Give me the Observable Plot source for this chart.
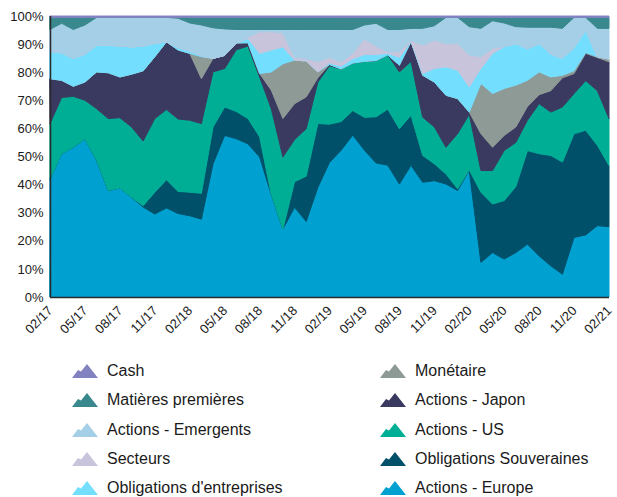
<!DOCTYPE html>
<html>
<head>
<meta charset="utf-8">
<script src="https://cdn.jsdelivr.net/npm/d3@7"></script>
<script src="https://cdn.jsdelivr.net/npm/@observablehq/plot@0.6"></script>
<style>
  body { margin: 0; background: #fff; font-family: "Liberation Sans", Arial, sans-serif; }
  #wrap { position: relative; width: 617px; height: 497px; overflow: hidden; }
  #legend { position: absolute; left: 0; top: 350px; width: 617px; height: 147px; }
  .sw { position: absolute; width: 26px; height: 14px; }
  .lbl { position: absolute; font-size: 16px; line-height: 18px; color: #1a1a1a; white-space: nowrap; }
</style>
</head>
<body>
<div id="wrap"><div id="chart"></div><div id="legend"></div></div>
<script>
const months = ["02/17","03/17","04/17","05/17","06/17","07/17","08/17","09/17","10/17","11/17","12/17","01/18",
"02/18","03/18","04/18","05/18","06/18","07/18","08/18","09/18","10/18","11/18","12/18","01/19",
"02/19","03/19","04/19","05/19","06/19","07/19","08/19","09/19","10/19","11/19","12/19","01/20",
"02/20","03/20","04/20","05/20","06/20","07/20","08/20","09/20","10/20","11/20","12/20","01/21","02/21"];
const tickLabels = ["02/17","05/17","08/17","11/17","02/18","05/18","08/18","11/18","02/19","05/19","08/19","11/19","02/20","05/20","08/20","11/20","02/21"];

// stacking order, bottom to top
const seriesNames = ["Actions - Europe","Obligations Souveraines","Actions - US","Actions - Japon","Monétaire",
  "Obligations d'entreprises","Secteurs","Actions - Emergents","Matières premières","Cash"];
const seriesColors = ["#00a0d0","#00506a","#00ae96","#3a3a60","#8d9a95","#74deff","#c7c4dc","#a5cfe6","#39888d","#8282c0"];

const actionsEurope = [42,51,53.3,56.3,48.6,37.9,38.8,35.5,32,29.5,31.7,29.5,28.9,27.7,47.4,57.5,56.3,54.5,49.8,36.5,24.2,31.9,26.9,39,48,52.1,57.5,52.1,47.6,46.8,40.2,46.8,40.8,41.4,40.2,37.9,45,12.3,15.8,13.5,15.8,18.8,14.6,11.1,8.1,21.2,22.1,25.4,25];
const obligSouveraines = [0,0,0,0,0,0,0,0,0.5,7.8,10,7.8,8.4,9.2,13.1,10.1,9.7,9,7.2,0,0,9.1,16.1,22.7,13.7,10.2,8.7,11.7,16.4,19.9,19.7,17.8,9.6,6,3.6,0.6,0.2,25,17.3,20.8,23.5,33.3,36.4,39.3,39.9,36.9,37.2,28.6,21.8];
const actionsUS = [19.7,20,18.1,13.7,18.4,25.6,25,25,23,26.2,25,25.6,25.6,24.8,19.6,13.7,22,25.8,21.3,30.5,25.6,15,16.9,14.8,20.8,18.7,16.9,19.9,20,19.3,20.2,19.1,13.6,13.1,9.5,19.6,19.8,7.7,11.9,17.8,15.7,10.8,17.8,15.4,19.6,14.3,17.7,19.4,16.7];
const actionsJapon = [16,6.1,3.6,6.5,13.1,16.3,14.5,18.8,25,22,24.1,24.4,23.8,16,4.8,4.7,2.4,1.2,1.2,6.6,13.7,12.8,11.3,1.5,0.5,0,0,0,0,0,2.4,7.1,14.9,16,18.5,12.5,0.8,13.1,8.3,5.4,5.5,4.9,3.2,7.6,10.4,7.1,9.7,11.8,20.2];
const monetaire = [0,0,0,0,0,0,0,0,0,0,0,0,0,7.8,0,0,0,0,0,6.5,19.5,15.5,12.8,2.1,0,0,0,0,0,0,0,0,0,0,0,0,0,17.9,19.1,16.7,14.9,9.3,8.1,4.9,0.9,1,0.3,0.3,1];
const obligEntreprises = [9.6,9.8,9.9,9.9,9.5,9.8,11,9.7,8.8,4.7,0,0.8,0.8,0.3,0,0,0,1.5,7.2,7.8,6,0,0,0,0.5,1,1.5,2.4,2.1,0.6,2.8,0.1,0.6,4.8,10.1,10.1,9,5.3,14.3,14.9,14.8,11.2,10.1,8.1,6,8.3,8,0,0];
const secteurs = [0,0,0,0,0,0,0,0,0,0,0,0,0,0,0,0,0,0.5,7.7,6.5,5,1,0.8,3.7,2,1.5,2,5.5,3,0.5,2,0.4,10.1,10.1,8.3,9.5,11.3,4.2,1.8,0,0,0,0,0,0,0,0,0,0];
const actionsEmergents = [7.9,10.5,10.3,10.4,9.9,9.9,10.2,10.5,10.2,9.3,8.7,10.4,10,11,10.9,9.4,4.8,2.7,0.8,0.8,1.2,9.9,10.4,11.4,10,11.5,8.4,5,8.1,7.9,7.9,4.2,6,5.1,9.3,9.3,10.1,10.1,9.8,8.4,6,7.7,5.8,9.6,10.7,10.7,4.5,10.1,10.9];
const matieresPremieres = [4.3,2.1,4.3,2.7,0,0,0,0,0,0,0,0.3,2,2.7,3.7,4.1,4.3,4.3,4.3,4.3,4.3,4.3,4.3,4.3,4.3,4.3,4.3,2.7,2.1,4.3,4.3,3.9,3.9,3,0,0,3.3,3.9,1.2,2,3.3,3.5,3.5,3.5,3.9,0,0,3.9,3.9];
const cash = [0.5,0.5,0.5,0.5,0.5,0.5,0.5,0.5,0.5,0.5,0.5,0.5,0.5,0.5,0.5,0.5,0.5,0.5,0.5,0.5,0.5,0.5,0.5,0.5,0.5,0.5,0.5,0.5,0.5,0.5,0.5,0.5,0.5,0.5,0.5,0.5,0.5,0.5,0.5,0.5,0.5,0.5,0.5,0.5,0.5,0.5,0.5,0.5,0.5];

const seriesValues = [actionsEurope, obligSouveraines, actionsUS, actionsJapon, monetaire,
  obligEntreprises, secteurs, actionsEmergents, matieresPremieres, cash];

const table = [];
seriesNames.forEach((name, k) => {
  seriesValues[k].forEach((v, i) => table.push({i, month: months[i], name, v}));
});

const tickIdx = tickLabels.map(t => months.indexOf(t));

const chart = Plot.plot({
  width: 617,
  height: 350,
  marginLeft: 50,
  marginRight: 8,
  marginTop: 16,
  marginBottom: 53,
  style: {fontFamily: "'Liberation Sans', Arial, sans-serif", fontSize: "13px", color: "#1a1a1a", background: "#fff"},
  x: {type: "linear", domain: [0, months.length - 1], ticks: tickIdx, tickFormat: i => months[i],
      tickRotate: -45, tickSize: 0, tickPadding: 11, label: null},
  y: {domain: [0, 1], ticks: d3.range(0, 1.0001, 0.1), tickFormat: d3.format(".0%"), tickSize: 0, tickPadding: 7, label: null},
  color: {domain: seriesNames, range: seriesColors},
  marks: [
    Plot.areaY(table, Plot.stackY({
      offset: "normalize", order: seriesNames,
      x: "i", y: "v", z: "name", fill: "name", stroke: "name", strokeWidth: 1
    })),
    Plot.ruleX([0], {stroke: "#2a2a2a", strokeWidth: 1.5}),
    Plot.ruleY([0], {stroke: "#2a2a2a", strokeWidth: 1.5})
  ]
});
document.getElementById("chart").appendChild(chart);

// legend: two columns, reverse stacking order
const legend = document.getElementById("legend");
const legendOrder = seriesNames.slice().reverse();
legendOrder.forEach((name, j) => {
  const col = Math.floor(j / 5), row = j % 5;
  const color = seriesColors[seriesNames.indexOf(name)];
  const cy = 22 + row * 29.3;
  const sw = document.createElementNS("http://www.w3.org/2000/svg", "svg");
  sw.setAttribute("class", "sw");
  sw.setAttribute("viewBox", "0 0 26 14");
  sw.style.left = (col === 0 ? 72 : 380) + "px";
  sw.style.top = (cy - 8) + "px";
  sw.innerHTML = `<path d="M0,14 L6,6 L9,7.5 L15,0 L26,14 Z" fill="${color}"/>`;
  legend.appendChild(sw);
  const lbl = document.createElement("div");
  lbl.className = "lbl";
  lbl.style.left = (col === 0 ? 107 : 415) + "px";
  lbl.style.top = (cy - 10) + "px";
  lbl.textContent = name;
  legend.appendChild(lbl);
});
</script>
</body>
</html>
